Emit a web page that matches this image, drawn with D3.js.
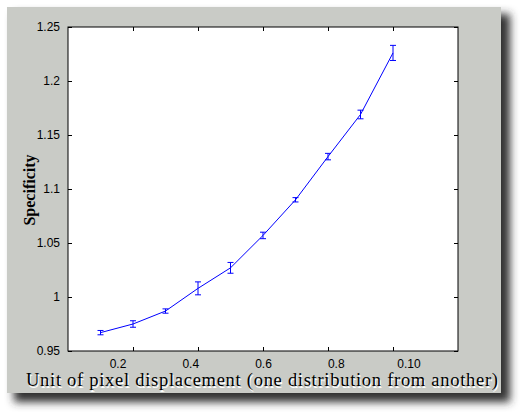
<!DOCTYPE html>
<html><head><meta charset="utf-8">
<script src="https://cdn.jsdelivr.net/npm/d3@7"></script>
<style>body{margin:0;background:#fff}</style>
</head><body><div id="chart"></div>
<script>
const xs = [0.1, 0.2, 0.3, 0.4, 0.5, 0.6, 0.7, 0.8, 0.9, 1.0];
const ys = [0.967, 0.975, 0.987, 1.008, 1.027, 1.057, 1.090, 1.130, 1.169, 1.226];
const errs = [0.002, 0.003, 0.002, 0.006, 0.005, 0.003, 0.002, 0.003, 0.004, 0.007];
const xTicks = [0.2, 0.4, 0.6, 0.8, 1.0];
const xTickLabels = ["0.2", "0.4", "0.6", "0.8", "0.10"];
const yTicks = [0.95, 1, 1.05, 1.1, 1.15, 1.2, 1.25];

const svg = d3.select("#chart").append("svg").attr("width", 524).attr("height", 417);
const defs = svg.append("defs");
defs.append("filter").attr("id", "blur").append("feGaussianBlur").attr("stdDeviation", 4);
svg.append("rect").attr("x", 14).attr("y", 14).attr("width", 496).attr("height", 388)
  .attr("fill", "#333").attr("filter", "url(#blur)");
svg.append("rect").attr("x", 7).attr("y", 7).attr("width", 494).attr("height", 386)
  .attr("fill", "#c9cbc6");

const x = d3.scaleLinear().domain([0, 1.2]).range([68, 458]);
const y = d3.scaleLinear().domain([0.95, 1.25]).range([351, 27]);
// tick labels in the original drift right of their ticks
const xl = d3.scaleLinear().domain([0.2, 1.0]).range([118, 409]);

svg.append("rect").attr("x", 68).attr("y", 27).attr("width", 390).attr("height", 324)
  .attr("fill", "#fff").attr("stroke", "#000");

svg.append("g").attr("transform", "translate(0,351)")
  .call(d3.axisBottom(x).tickValues(xTicks).tickSize(-4).tickFormat(""));
svg.append("g").selectAll("text").data(xTicks).join("text")
  .attr("x", d => xl(d)).attr("y", 368).attr("text-anchor", "middle")
  .attr("font-family", "Liberation Sans, Arial").attr("font-size", 12)
  .text((d, i) => xTickLabels[i]);
svg.append("g").attr("transform", "translate(68,0)")
  .call(d3.axisLeft(y).tickValues(yTicks).tickSize(-4).tickPadding(8).tickFormat(d3.format("")));
svg.append("g").attr("transform", "translate(458,0)")
  .call(d3.axisRight(y).tickValues(yTicks).tickSize(-4).tickFormat(""));
svg.append("g").attr("transform", "translate(0,27)")
  .call(d3.axisTop(x).tickValues(xTicks).tickSize(-4).tickFormat(""));
svg.selectAll(".domain").remove();
svg.selectAll(".tick text").attr("font-family", "Liberation Sans, Arial").attr("font-size", 12).attr("fill", "#000");

const line = d3.line().x((d, i) => x(xs[i])).y(d => y(d));
svg.append("path").datum(ys).attr("d", line).attr("fill", "none").attr("stroke", "#0000ff");
const eb = svg.append("g").attr("stroke", "#0000ff");
xs.forEach((v, i) => {
  const cx = x(v), t = y(ys[i] + errs[i]), b = y(ys[i] - errs[i]);
  eb.append("line").attr("x1", cx).attr("x2", cx).attr("y1", t).attr("y2", b);
  eb.append("line").attr("x1", cx - 3).attr("x2", cx + 3).attr("y1", t).attr("y2", t);
  eb.append("line").attr("x1", cx - 3).attr("x2", cx + 3).attr("y1", b).attr("y2", b);
});

const ff = "Liberation Serif, Times New Roman, serif";
const xt = "Unit of pixel displacement (one distribution from another)";
svg.append("text").attr("x", 262).attr("y", 386).attr("text-anchor", "middle")
  .attr("font-family", ff).attr("font-size", 18.5).attr("fill", "#fff").attr("dx", 1).attr("dy", 1.5)
  .attr("textLength", 472).text(xt);
svg.append("text").attr("x", 262).attr("y", 386).attr("text-anchor", "middle")
  .attr("font-family", ff).attr("font-size", 18.5).attr("fill", "#000")
  .attr("textLength", 472).text(xt);
svg.append("text").attr("transform", "translate(35,190) rotate(-90)").attr("text-anchor", "middle")
  .attr("font-family", ff).attr("font-size", 16).attr("font-weight", "bold").attr("fill", "#000").text("Specificity");
</script></body></html>
